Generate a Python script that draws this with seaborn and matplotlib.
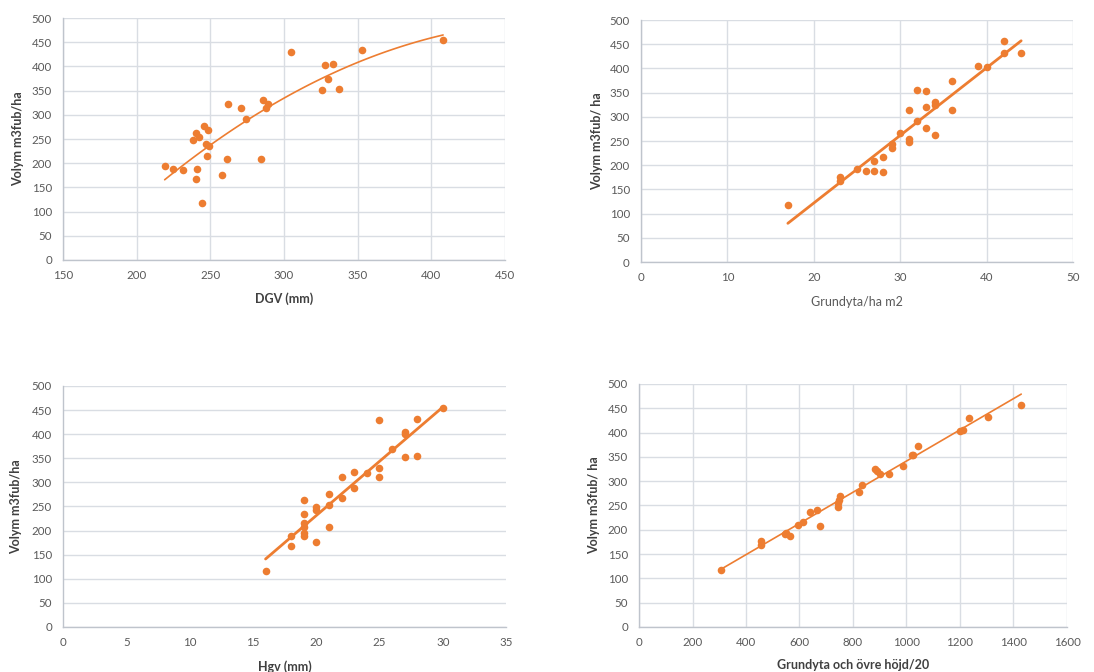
import numpy as np
import pandas as pd
import matplotlib
matplotlib.use("Agg")
import matplotlib.pyplot as plt
import seaborn as sns

sns.set_theme(style="white")
plt.rcParams["font.family"] = ["Lato", "DejaVu Sans"]

# Volume per hectare vs. mean diameter (DGV)
dgv = [219, 224.5, 231.5, 238, 240, 240, 241, 242, 244, 246, 247, 248.5, 248, 249,
       258, 261, 262, 271, 274, 284.5, 286, 288, 289, 304.5, 326, 327.5, 330, 333,
       337, 353, 408]
vol_dgv = [194, 188, 186, 248, 263, 168, 188, 254, 117, 277, 240, 268, 214, 236,
           175, 208, 323, 314, 291, 208, 330, 314, 322, 430, 351, 402, 373, 405,
           354, 433, 455]

# Volume vs. basal area per hectare
grundyta = [17, 23, 23, 25, 26, 27, 27, 28, 28, 29, 29, 30, 31, 31, 31, 32, 32,
            33, 33, 33, 34, 34, 34, 36, 36, 39, 40, 42, 42, 44]
vol_grundyta = [117, 176, 167, 193, 188, 188, 208, 186, 216, 243, 235, 267, 314,
                255, 249, 356, 291, 353, 321, 277, 331, 324, 263, 373, 314, 405,
                402, 456, 432, 431]

# Volume vs. mean height (Hgv)
hgv = [16, 18, 18, 19, 19, 19, 19, 19, 19, 20, 20, 20, 21, 21, 21, 22, 22, 23,
       23, 24, 25, 25, 25, 26, 27, 27, 27, 28, 28, 30]
vol_hgv = [117, 168, 188, 264, 235, 215, 208, 194, 189, 248, 242, 177, 275, 254,
           208, 312, 267, 322, 289, 320, 429, 330, 312, 370, 404, 401, 352, 432,
           354, 455]

# Volume vs. basal area times top height / 20
gh = [305, 457, 457, 545, 551, 563, 593, 614, 639, 667, 675, 743, 743, 748, 753,
      824, 832, 882, 891, 900, 936, 986, 1021, 1024, 1043, 1199, 1211, 1232,
      1303, 1429]
vol_gh = [117, 176, 168, 192, 194, 188, 209, 215, 236, 241, 208, 247, 255, 262,
          269, 277, 292, 325, 321, 315, 315, 332, 353, 354, 373, 403, 405, 431,
          433, 457]

ORANGE = "#ED7D31"
GRID = "#D9DDE3"
SPINE = "#BFC4CC"
TICK = "#595959"
LABEL = "#404040"

fig = plt.figure(figsize=(10.94, 6.72), dpi=100)

panels = [
    dict(rect=[0.0576, 0.6131, 0.4040, 0.3601], x=dgv, y=vol_dgv,
         xlim=(150, 450), xticks=np.arange(150, 451, 50), order=2, lw=1.2,
         xlabel="DGV (mm)", xbold=True, ylabel="Volym m3fub/ha",
         vgrid=True, xl=-0.161, yl=-0.102),
    dict(rect=[0.5859, 0.6101, 0.3949, 0.3601], x=grundyta, y=vol_grundyta,
         xlim=(0, 50), xticks=np.arange(0, 51, 10), order=1, lw=2.0,
         xlabel="Grundyta/ha m2", xbold=False, ylabel="Volym m3fub/ ha",
         vgrid=True, xl=-0.165, yl=-0.102),
    dict(rect=[0.0576, 0.0670, 0.4050, 0.3586], x=hgv, y=vol_hgv,
         xlim=(0, 35), xticks=np.arange(0, 36, 5), order=1, lw=2.0,
         xlabel="Hgv (mm)", xbold=True, ylabel="Volym m3fub/ha",
         vgrid=False, xl=-0.166, yl=-0.106),
    dict(rect=[0.5841, 0.0670, 0.3912, 0.3616], x=gh, y=vol_gh,
         xlim=(0, 1600), xticks=np.arange(0, 1601, 200), order=1, lw=1.2,
         xlabel="Grundyta och övre höjd/20", xbold=True, ylabel="Volym m3fub/ ha",
         vgrid=True, xl=-0.156, yl=-0.105),
]

for p in panels:
    ax = fig.add_axes(p["rect"])
    df = pd.DataFrame({"x": p["x"], "y": p["y"]})
    sns.regplot(data=df, x="x", y="y", ax=ax, order=p["order"], ci=None,
                color=ORANGE,
                scatter_kws=dict(s=30, linewidths=0, alpha=1, zorder=3),
                line_kws=dict(lw=p["lw"], zorder=2))
    ax.set_xlim(*p["xlim"])
    ax.set_ylim(0, 500)
    ax.set_xticks(p["xticks"])
    ax.set_yticks(np.arange(0, 501, 50))
    ax.grid(axis="y", color=GRID, lw=1.0, zorder=0)
    if p["vgrid"]:
        ax.grid(axis="x", color=GRID, lw=1.0, zorder=0)
    ax.set_axisbelow(True)
    for side in ("top", "right"):
        ax.spines[side].set_visible(False)
    for side in ("left", "bottom"):
        ax.spines[side].set_color(SPINE)
        ax.spines[side].set_linewidth(1.0)
    ax.tick_params(axis="both", length=0, labelsize=8.3, labelcolor=TICK)
    ax.tick_params(axis="y", pad=8)
    ax.tick_params(axis="x", pad=7)
    ax.set_xlabel(p["xlabel"], fontsize=9,
                  fontweight="bold" if p["xbold"] else "normal",
                  color=LABEL if p["xbold"] else TICK, va="center")
    ax.set_ylabel(p["ylabel"], fontsize=9, fontweight="bold", color=LABEL,
                  va="center")
    ax.xaxis.set_label_coords(0.5, p["xl"])
    ax.yaxis.set_label_coords(p["yl"], 0.5)

fig.savefig("out.png", dpi=100)
